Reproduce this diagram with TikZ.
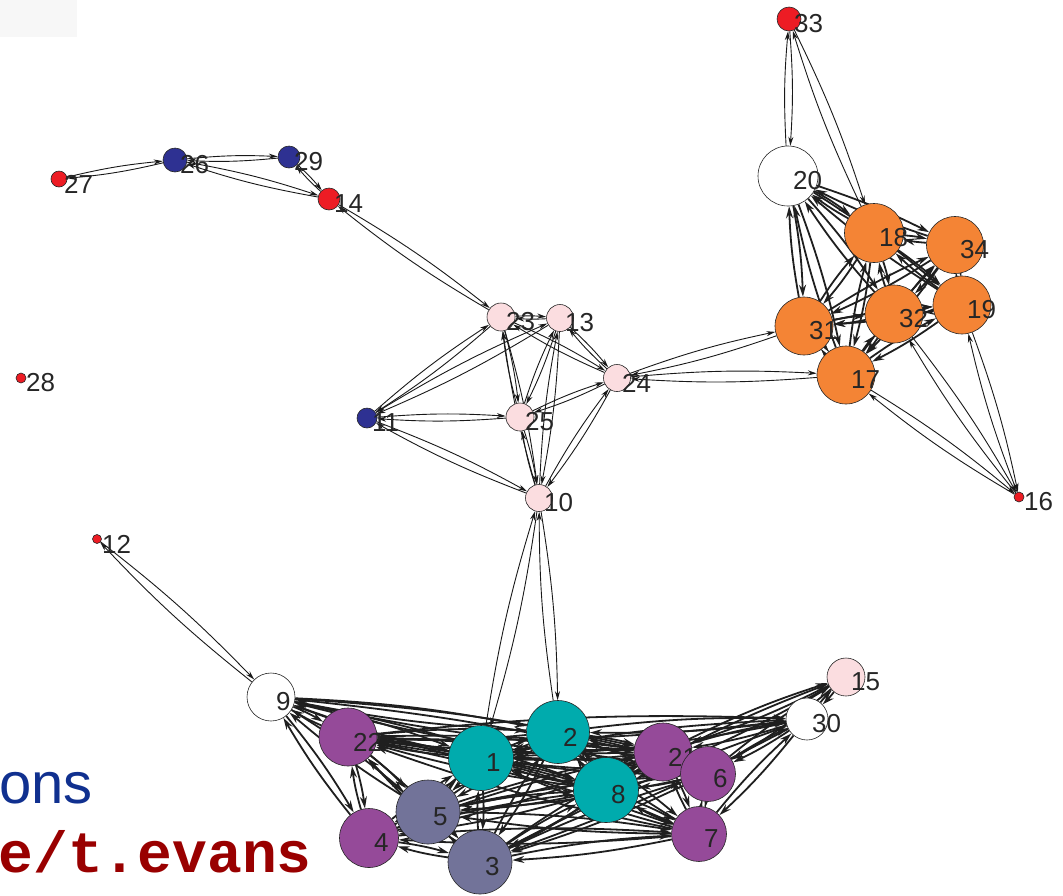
\documentclass[tikz,border=0pt]{standalone}
\usepackage{fontspec}
\setmainfont{Liberation Sans}
\newfontfamily\monob{Liberation Mono}
\usetikzlibrary{arrows.meta,backgrounds}
\definecolor{cred}{HTML}{ED1C24}
\definecolor{cblue}{HTML}{2E3192}
\definecolor{corange}{HTML}{F48435}
\definecolor{cpink}{HTML}{FBDDE0}
\definecolor{cpurple}{HTML}{954A99}
\definecolor{cteal}{HTML}{00ABAD}
\definecolor{cslate}{HTML}{727399}
\definecolor{tblue}{HTML}{10308F}
\definecolor{tred}{HTML}{990000}
\tikzset{
  vtx/.style={circle,draw=black!85,line width=0.6pt,inner sep=0pt,minimum size=#1},
  lab/.style={anchor=west,inner sep=0pt,font=\fontsize{26}{30}\selectfont,text=black!85},
  e/.style={-{Stealth[length=9pt,width=5pt]},line width=0.9pt,black!90},
  ec/.style={-{Stealth[length=12pt,width=7pt]},line width=1.8pt,black!88},
}
% \Vx{name}{x}{y}{diameter}{fill}
\newcommand\Vx[5]{%
  \node[vtx=#4,fill=#5] (n#1) at (#2,#3) {};
  \node[lab] (l#1) at ([xshift=5pt,yshift=-5pt]n#1.center) {#1};}
\newcommand\Epair[3][e]{\draw[#1] (n#2) to[bend left=4] (n#3); \draw[#1] (n#3) to[bend left=4] (n#2);}
\begin{document}
\begin{tikzpicture}[x=1pt,y=-1pt]
\useasboundingbox (0,0) rectangle (1063,895);
% nodes
\Vx{33}{789}{19}{24pt}{cred}
\Vx{20}{788}{176}{60pt}{white}
\Vx{18}{874}{233}{59pt}{corange}
\Vx{34}{955}{245}{57pt}{corange}
\Vx{31}{804}{326}{58pt}{corange}
\Vx{32}{894}{314}{58pt}{corange}
\Vx{19}{962}{305}{58pt}{corange}
\Vx{17}{846}{375}{58pt}{corange}
\Vx{16}{1019}{497}{10pt}{cred}
\Vx{27}{59}{179}{16pt}{cred}
\Vx{26}{175}{160}{24pt}{cblue}
\Vx{29}{289}{157}{22pt}{cblue}
\Vx{14}{329}{199}{22pt}{cred}
\Vx{28}{21}{378}{10pt}{cred}
\Vx{12}{97}{539}{9pt}{cred}
\Vx{23}{501}{317}{28pt}{cpink}
\Vx{13}{560}{318}{27pt}{cpink}
\Vx{24}{617}{378}{27pt}{cpink}
\Vx{25}{520}{417}{28pt}{cpink}
\Vx{11}{367}{418}{20pt}{cblue}
\Vx{10}{539}{498}{27pt}{cpink}
\Vx{9}{271}{697}{48pt}{white}
\Vx{22}{348}{737}{58pt}{cpurple}
\Vx{1}{481}{758}{65pt}{cteal}
\Vx{2}{558}{732}{63pt}{cteal}
\Vx{8}{606}{790}{65pt}{cteal}
\Vx{21}{663}{752}{58pt}{cpurple}
\Vx{6}{708}{774}{55pt}{cpurple}
\Vx{7}{699}{834}{55pt}{cpurple}
\Vx{5}{428}{812}{64pt}{cslate}
\Vx{4}{369}{838}{59pt}{cpurple}
\Vx{3}{480}{862}{64pt}{cslate}
\Vx{30}{807}{719}{42pt}{white}
\Vx{15}{846}{677}{38pt}{cpink}
% texts
\node[anchor=base east,inner sep=0pt,text=tblue,font=\fontsize{58}{60}\selectfont] (t1) at (93,803) {ons};
\node[anchor=base east,inner sep=0pt,text=tred,font=\monob\bfseries\fontsize{58}{60}\selectfont] (t2) at (312,872) {e/t.evans};
% edges
\begin{scope}[on background layer]
\fill[black!3] (0,0) rectangle (77,37);
\foreach \a/\b in {27/26,26/29,26/14,29/14,14/23,33/20,33/18,24/31,24/17,16/17,16/32,16/19,
  23/13,23/25,23/24,23/11,23/10,13/24,13/25,13/10,13/11,24/25,24/10,25/10,25/11,11/10,10/1,10/2,12/9}
  {\Epair{\a}{\b}}
\foreach \a/\b in {20/18,20/34,20/31,20/32,20/17,20/19,18/34,18/31,18/32,18/19,18/17,34/31,34/32,34/19,34/17,
  32/31,32/17,32/19,19/17,31/17,31/19,
  9/22,9/4,9/1,9/2,9/5,9/8,9/21,9/6,22/4,22/1,22/2,22/5,22/3,22/8,22/21,22/6,22/7,22/30,
  1/2,1/8,1/5,1/3,1/4,1/21,1/6,1/7,2/8,2/21,2/6,2/7,2/5,2/3,2/30,
  8/21,8/6,8/7,8/5,8/3,8/4,21/7,21/30,21/15,21/5,21/3,6/7,6/30,7/30,7/3,7/5,
  5/4,5/3,5/6,4/3,4/7,4/21,3/6,30/15,15/8,15/6,30/3,30/1}
  {\Epair[ec]{\a}{\b}}
\end{scope}
\end{tikzpicture}
\end{document}
